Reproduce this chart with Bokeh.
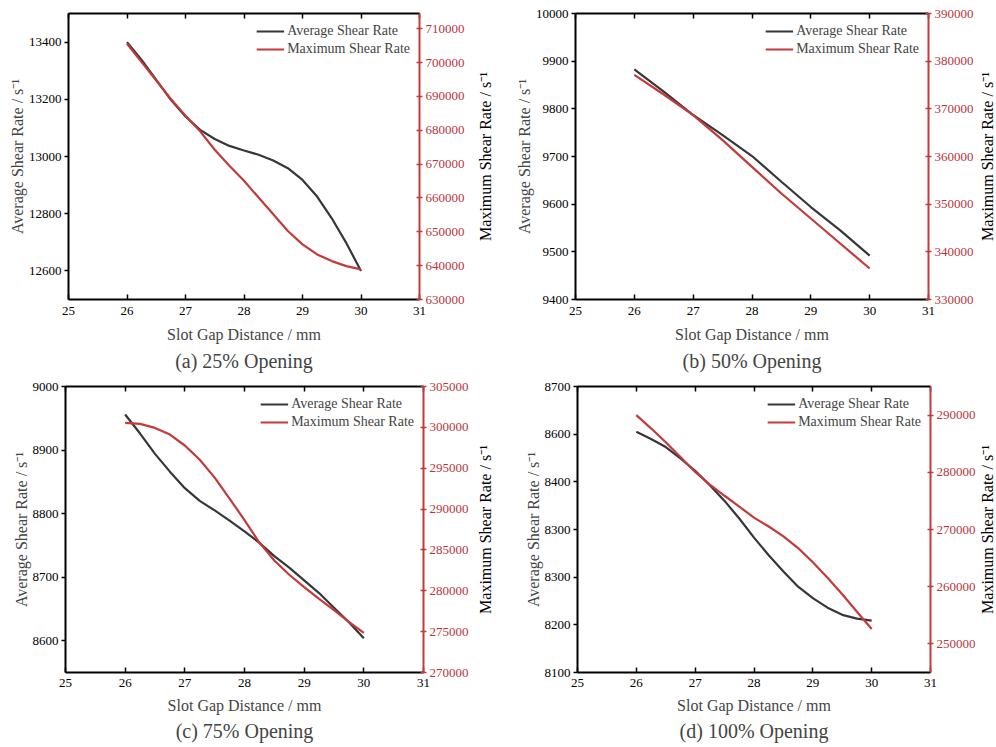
import math
from bokeh.plotting import figure
from bokeh.models import (Range1d, LinearAxis, FixedTicker, Title, Legend, LegendItem,
                          BasicTickFormatter)
from bokeh.core.properties import value
from bokeh.layouts import column, row
from bokeh.embed import file_html
from bokeh.resources import INLINE

# ---------------- data ----------------
X_TICKS = [25, 26, 27, 28, 29, 30, 31]
X_Q = [26, 26.25, 26.5, 26.75, 27, 27.25, 27.5, 27.75, 28,
       28.25, 28.5, 28.75, 29, 29.25, 29.5, 29.75, 30]
X_H = [26, 26.5, 27, 27.5, 28, 28.5, 29, 29.5, 30]

# (a) 25% Opening
A_AVG = [13400, 13338, 13268, 13198, 13140, 13093, 13061, 13037, 13021,
         13006, 12986, 12959, 12918, 12860, 12784, 12697, 12600]
A_MAX = [705560, 700120, 694690, 689260, 684320, 679680, 674250, 669500, 665060,
         660120, 655180, 650240, 646290, 643330, 641350, 639870, 638890]
A_LTICKS = [12600, 12800, 13000, 13200, 13400]
A_RTICKS = [630000, 640000, 650000, 660000, 670000, 680000, 690000, 700000, 710000]

# (b) 50% Opening
B_AVG = [9883, 9836, 9787, 9745, 9701, 9647, 9594, 9545, 9492]
B_MAX = [377130, 373010, 368670, 363430, 357830, 352240, 346990, 341750, 336500]
B_LTICKS = [9400, 9500, 9600, 9700, 9800, 9900, 10000]
B_RTICKS = [330000, 340000, 350000, 360000, 370000, 380000, 390000]

# (c) 75% Opening
C_AVG = [8956, 8926, 8894, 8866, 8840, 8820, 8805, 8789, 8772,
         8754, 8733, 8715, 8695, 8675, 8652, 8629, 8604]
C_MAX = [300540, 300420, 299930, 299120, 297780, 296040, 293850, 291290, 288650,
         285900, 283710, 281960, 280460, 279000, 277620, 276200, 274860]
C_LTICKS = [8600, 8700, 8800, 8900, 9000]
C_RTICKS = [270000, 275000, 280000, 285000, 290000, 295000, 300000, 305000]

# (d) 100% Opening
D_AVG = [8605, 8590, 8573, 8549, 8523, 8493, 8460, 8423, 8383,
         8346, 8312, 8280, 8256, 8236, 8221, 8213, 8209]
D_MAX = [290000, 287690, 285260, 282660, 280060, 277860, 275900, 273990, 272080,
         270520, 268790, 266760, 264280, 261560, 258670, 255610, 252600]
D_LTICKS = [8100, 8200, 8300, 8400, 8500, 8600, 8700]
D_LLABELS = ["8100", "8200", "8300", "8300", "8400", "8600", "8700"]
D_RTICKS = [250000, 260000, 270000, 280000, 290000]

LEFT_LABEL = "Average Shear Rate / s\u207b\u00b9"
RIGHT_LABEL = "Maximum Shear Rate / s\u207b\u00b9"
X_LABEL = "Slot Gap Distance / mm"
SERIES = ["Average Shear Rate", "Maximum Shear Rate"]

FONT = "Liberation Serif"
DARK = "#373737"
RED = "#c43a3a"
RED_TXT = "#b8343c"


def make_panel(x, avg, mx, yl, yr, lticks, rticks, caption, w, h, bl, br, bt, bb,
               lab_so=7, xl_so=8, t_so=4, llabels=None):
    p = figure(width=w, height=h, x_range=Range1d(25, 31), y_range=Range1d(*yl),
               output_backend="svg", toolbar_location=None,
               min_border_left=bl, min_border_right=br, min_border_top=bt,
               min_border_bottom=bb)
    p.extra_y_ranges = {"max": Range1d(*yr)}
    p.grid.visible = False
    p.outline_line_color = None
    p.background_fill_color = "white"
    p.border_fill_color = "white"

    xa = p.xaxis[0]
    xa.ticker = FixedTicker(ticks=X_TICKS)
    xa.major_tick_in = 5
    xa.major_tick_out = 0
    xa.minor_tick_line_color = None
    xa.axis_line_width = 2
    xa.major_tick_line_width = 1.5
    xa.axis_label = X_LABEL
    xa.axis_label_text_font = FONT
    xa.axis_label_text_font_size = "16px"
    xa.axis_label_text_font_style = "normal"
    xa.axis_label_standoff = xl_so
    xa.major_label_text_font = FONT
    xa.major_label_text_font_size = "13px"
    xa.major_label_standoff = lab_so
    xa.major_label_text_color = "black"

    ya = p.yaxis[0]
    ya.ticker = FixedTicker(ticks=lticks)
    ya.formatter = BasicTickFormatter(use_scientific=False)
    if llabels:
        ya.major_label_overrides = {t: s for t, s in zip(lticks, llabels)}
    ya.major_tick_in = 0
    ya.major_tick_out = 4
    ya.minor_tick_line_color = None
    ya.axis_line_width = 2
    ya.major_tick_line_width = 1.5
    ya.axis_label = LEFT_LABEL
    ya.axis_label_text_font = FONT
    ya.axis_label_text_font_size = "16px"
    ya.axis_label_text_font_style = "normal"
    ya.axis_label_standoff = 0
    ya.major_label_text_font = FONT
    ya.major_label_text_font_size = "13px"
    ya.major_label_standoff = 3
    ya.major_label_text_color = "black"

    # top frame line with inward ticks (minor ticks only -> no labels)
    top = LinearAxis(ticker=FixedTicker(ticks=[], minor_ticks=X_TICKS),
                     major_tick_line_color=None, minor_tick_in=5, minor_tick_out=0,
                     minor_tick_line_width=1.5, minor_tick_line_color="black",
                     axis_line_width=2)
    p.add_layout(top, "above")

    ra = LinearAxis(y_range_name="max", ticker=FixedTicker(ticks=rticks),
                    formatter=BasicTickFormatter(use_scientific=False),
                    major_tick_in=3, major_tick_out=3, minor_tick_line_color=None,
                    axis_line_color=RED, axis_line_width=2, major_tick_line_color=RED,
                    major_tick_line_width=1.5,
                    major_label_text_color=RED_TXT, major_label_text_font=FONT,
                    major_label_text_font_size="13px", major_label_standoff=3)
    p.add_layout(ra, "right")

    r1 = p.line(x, avg, line_color=DARK, line_width=2.2)
    r2 = p.line(x, mx, line_color=RED, line_width=2.2, y_range_name="max")

    leg = Legend(items=[LegendItem(label=SERIES[0], renderers=[r1]),
                        LegendItem(label=SERIES[1], renderers=[r2])],
                 location="top_right", border_line_color=None, background_fill_alpha=0,
                 label_text_font=FONT, label_text_font_size="14px",
                 glyph_width=28, glyph_height=18, label_height=18, spacing=0,
                 padding=2, margin=9, label_standoff=3)
    p.add_layout(leg)

    t = Title(text=caption, align="center", text_font=FONT, text_font_size="20px",
              text_font_style="normal", standoff=t_so)
    p.add_layout(t, "below")
    return p


def right_title(w, h, bt, bb):
    """Narrow strip holding the right-axis title, read bottom-to-top."""
    q = figure(width=w, height=h, x_range=Range1d(0, 1), y_range=Range1d(0, 1),
               output_backend="svg", toolbar_location=None,
               min_border_left=0, min_border_right=0, min_border_top=bt,
               min_border_bottom=bb)
    q.axis.visible = False
    q.grid.visible = False
    q.outline_line_color = None
    q.background_fill_color = "white"
    q.border_fill_color = "white"
    q.text(x=[0.5], y=[0.5], text=[RIGHT_LABEL], angle=math.pi / 2,
           text_align="center", text_baseline="middle", text_font=value(FONT),
           text_font_size="16px", text_color="black")
    return q


pa = make_panel(X_Q, A_AVG, A_MAX, (12500, 13500), (630000, 714500), A_LTICKS, A_RTICKS,
                "(a) 25% Opening", 471, 380, 68, 52, 13, 81)
la = right_title(27, 380, 13, 81)
pb = make_panel(X_H, B_AVG, B_MAX, (9400, 10000), (330000, 390000), B_LTICKS, B_RTICKS,
                "(b) 50% Opening", 480, 380, 77, 50, 13, 81)
lb = right_title(18, 380, 13, 81)
pc = make_panel(X_Q, C_AVG, C_MAX, (8550, 9000), (270000, 305000), C_LTICKS, C_RTICKS,
                "(c) 75% Opening", 471, 367, 65, 47, 6, 73, lab_so=6, xl_so=7, t_so=2)
lc = right_title(27, 367, 6, 73)
pd = make_panel(X_Q, D_AVG, D_MAX, (8100, 8700), (245000, 295000), D_LTICKS, D_RTICKS,
                "(d) 100% Opening", 480, 367, 79, 46, 5, 75, lab_so=6, xl_so=7, t_so=2,
                llabels=D_LLABELS)
ld = right_title(18, 367, 5, 75)

layout = column(row(pa, la, pb, lb), row(pc, lc, pd, ld))

with open("out.html", "w") as f:
    f.write(file_html(layout, INLINE))
